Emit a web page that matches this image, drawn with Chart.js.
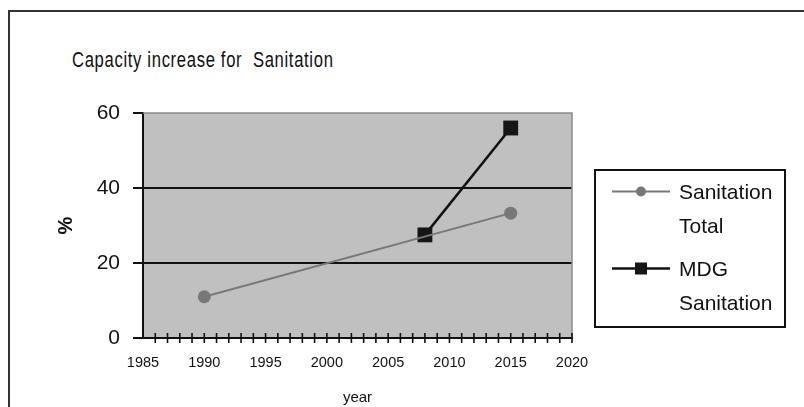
<!DOCTYPE html>
<html>
<head>
<meta charset="utf-8">
<script src="https://cdn.jsdelivr.net/npm/chart.js@4/dist/chart.umd.min.js"></script>
<style>
  html, body { margin: 0; padding: 0; background: #fff; width: 804px; height: 407px; overflow: hidden; }
  #frame { position: absolute; left: 8px; top: 10px; width: 900px; height: 500px; border: 2px solid #333; box-sizing: border-box; }
  #title { position: absolute; left: 72px; top: 47px; line-height: 28px; white-space: pre; color: #111;
           font: 22px 'Liberation Sans', Arial, sans-serif; letter-spacing: 0.9px;
           transform: scaleX(0.755); transform-origin: 0 50%; }
  #wrap { position: absolute; left: 0; top: 0; width: 804px; height: 407px; }
</style>
</head>
<body>
<div id="frame"></div>
<div id="title">Capacity increase for  Sanitation</div>
<div id="wrap"><canvas id="c" width="804" height="407"></canvas></div>
<script>
// Sanitation coverage (%) by year
const totalYears  = [1990, 2015];
const totalValues = [11, 33.3];
const mdgYears    = [2008, 2015];
const mdgValues   = [27.5, 56];

// Legend names, split over two lines each
const totalName = ['Sanitation', 'Total'];
const mdgName   = ['MDG', 'Sanitation'];

// Axis ticks
const yearLabels = [1985, 1990, 1995, 2000, 2005, 2010, 2015, 2020];
const pctTicks   = [0, 20, 40, 60];

const GREY = '#787878';
const INK  = '#111111';
const sans = "'Liberation Sans', Arial, sans-serif";

const toPoints = (xs, ys) => xs.map((x, i) => ({ x: x, y: ys[i] }));

// Grey plot background, grey top/right edge, "+" year ticks on the x axis, boxed legend
const plotDecor = {
  id: 'plotDecor',
  beforeDraw(chart) {
    const { ctx, chartArea: a } = chart;
    ctx.save();
    ctx.fillStyle = '#c0c0c0';
    ctx.fillRect(a.left, a.top, a.right - a.left, a.bottom - a.top);
    ctx.restore();
  },
  beforeDatasetsDraw(chart) {
    const { ctx, chartArea: a } = chart;
    ctx.save();
    ctx.strokeStyle = '#8c8c8c';
    ctx.lineWidth = 1.5;
    ctx.beginPath();
    ctx.moveTo(a.left, a.top);
    ctx.lineTo(a.right, a.top);
    ctx.lineTo(a.right, a.bottom);
    ctx.stroke();
    ctx.restore();
  },
  afterDatasetsDraw(chart) {
    const { ctx } = chart;
    const xs = chart.scales.x;
    const y0 = chart.scales.y.getPixelForValue(0);
    ctx.save();
    ctx.strokeStyle = INK;
    ctx.lineWidth = 1.6;
    xs.ticks.forEach(t => {
      if (t.value === xs.min) return;
      const px = xs.getPixelForValue(t.value);
      ctx.beginPath();
      ctx.moveTo(px, y0 - 5);
      ctx.lineTo(px, y0 + 5);
      ctx.stroke();
    });
    ctx.restore();
  },
  afterDraw(chart) {
    const { ctx, chartArea: a } = chart;
    const box = { x: a.right + 23, y: a.top + 57, w: 190, h: 157 };
    ctx.save();
    ctx.strokeStyle = INK;
    ctx.lineWidth = 2;
    ctx.strokeRect(box.x, box.y, box.w, box.h);
    ctx.font = '21px ' + sans;
    ctx.textBaseline = 'middle';
    ctx.fillStyle = INK;
    chart.data.datasets.forEach((ds, i) => {
      const cy = box.y + 23 + i * 77;
      const ly = cy - 1.5;
      const x1 = box.x + 17, x2 = box.x + 75, mx = (x1 + x2) / 2;
      ctx.strokeStyle = ds.borderColor;
      ctx.lineWidth = ds.borderWidth;
      ctx.beginPath();
      ctx.moveTo(x1, ly);
      ctx.lineTo(x2, ly);
      ctx.stroke();
      ctx.fillStyle = ds.pointBackgroundColor;
      if (ds.pointStyle === 'rect') {
        ctx.fillRect(mx - 6, ly - 6, 12, 12);
      } else {
        ctx.beginPath();
        ctx.arc(mx, ly, 5, 0, Math.PI * 2);
        ctx.fill();
      }
      ctx.fillStyle = INK;
      ds.legendLines.forEach((line, j) => ctx.fillText(line, box.x + 84, cy + j * 34));
    });
    ctx.restore();
  }
};

new Chart(document.getElementById('c'), {
  type: 'line',
  data: {
    datasets: [
      {
        label: totalName.join(' '),
        legendLines: totalName,
        data: toPoints(totalYears, totalValues),
        borderColor: GREY,
        backgroundColor: GREY,
        pointBackgroundColor: GREY,
        pointBorderColor: GREY,
        borderWidth: 2,
        pointStyle: 'circle',
        pointRadius: 6.5,
        pointBorderWidth: 0,
        tension: 0
      },
      {
        label: mdgName.join(' '),
        legendLines: mdgName,
        data: toPoints(mdgYears, mdgValues),
        borderColor: INK,
        backgroundColor: '#161616',
        pointBackgroundColor: '#161616',
        pointBorderColor: '#161616',
        borderWidth: 2.5,
        pointStyle: 'rect',
        pointRadius: 10.5,
        pointBorderWidth: 0,
        tension: 0
      }
    ]
  },
  options: {
    responsive: false,
    animation: false,
    events: [],
    layout: { padding: { left: 40, right: 232, top: 113, bottom: 0 } },
    plugins: { legend: { display: false }, tooltip: { enabled: false }, title: { display: false } },
    scales: {
      x: {
        type: 'linear',
        min: yearLabels[0],
        max: yearLabels[yearLabels.length - 1],
        afterFit: s => { s.height = 69; },
        border: { display: true, color: INK, width: 2 },
        grid: { display: true, drawOnChartArea: false, drawTicks: false },
        ticks: {
          stepSize: 1,
          autoSkip: false,
          maxRotation: 0,
          padding: 16,
          color: INK,
          font: { family: sans, size: 14.5 },
          callback: v => yearLabels.includes(v) ? String(v) : ''
        },
        title: {
          display: true,
          text: 'year',
          color: INK,
          font: { family: sans, size: 15 },
          padding: { top: 0, bottom: 0 }
        }
      },
      y: {
        min: pctTicks[0],
        max: pctTicks[pctTicks.length - 1],
        afterFit: s => { s.width = 103; },
        afterBuildTicks: s => { s.ticks = pctTicks.map(v => ({ value: v })); },
        border: { display: true, color: INK, width: 2 },
        grid: {
          color: c => (c.tick && c.tick.value > pctTicks[0] && c.tick.value < pctTicks[pctTicks.length - 1]) ? INK : 'rgba(0,0,0,0)',
          lineWidth: 2,
          tickColor: INK,
          tickLength: 10,
          drawTicks: true
        },
        ticks: {
          padding: 13,
          color: INK,
          font: { family: sans, size: 21 }
        },
        title: {
          display: true,
          text: '%',
          color: INK,
          font: { family: sans, size: 20, weight: 'bold' },
          padding: { top: 14, bottom: 0 }
        }
      }
    }
  },
  plugins: [plotDecor]
});
</script>
</body>
</html>
